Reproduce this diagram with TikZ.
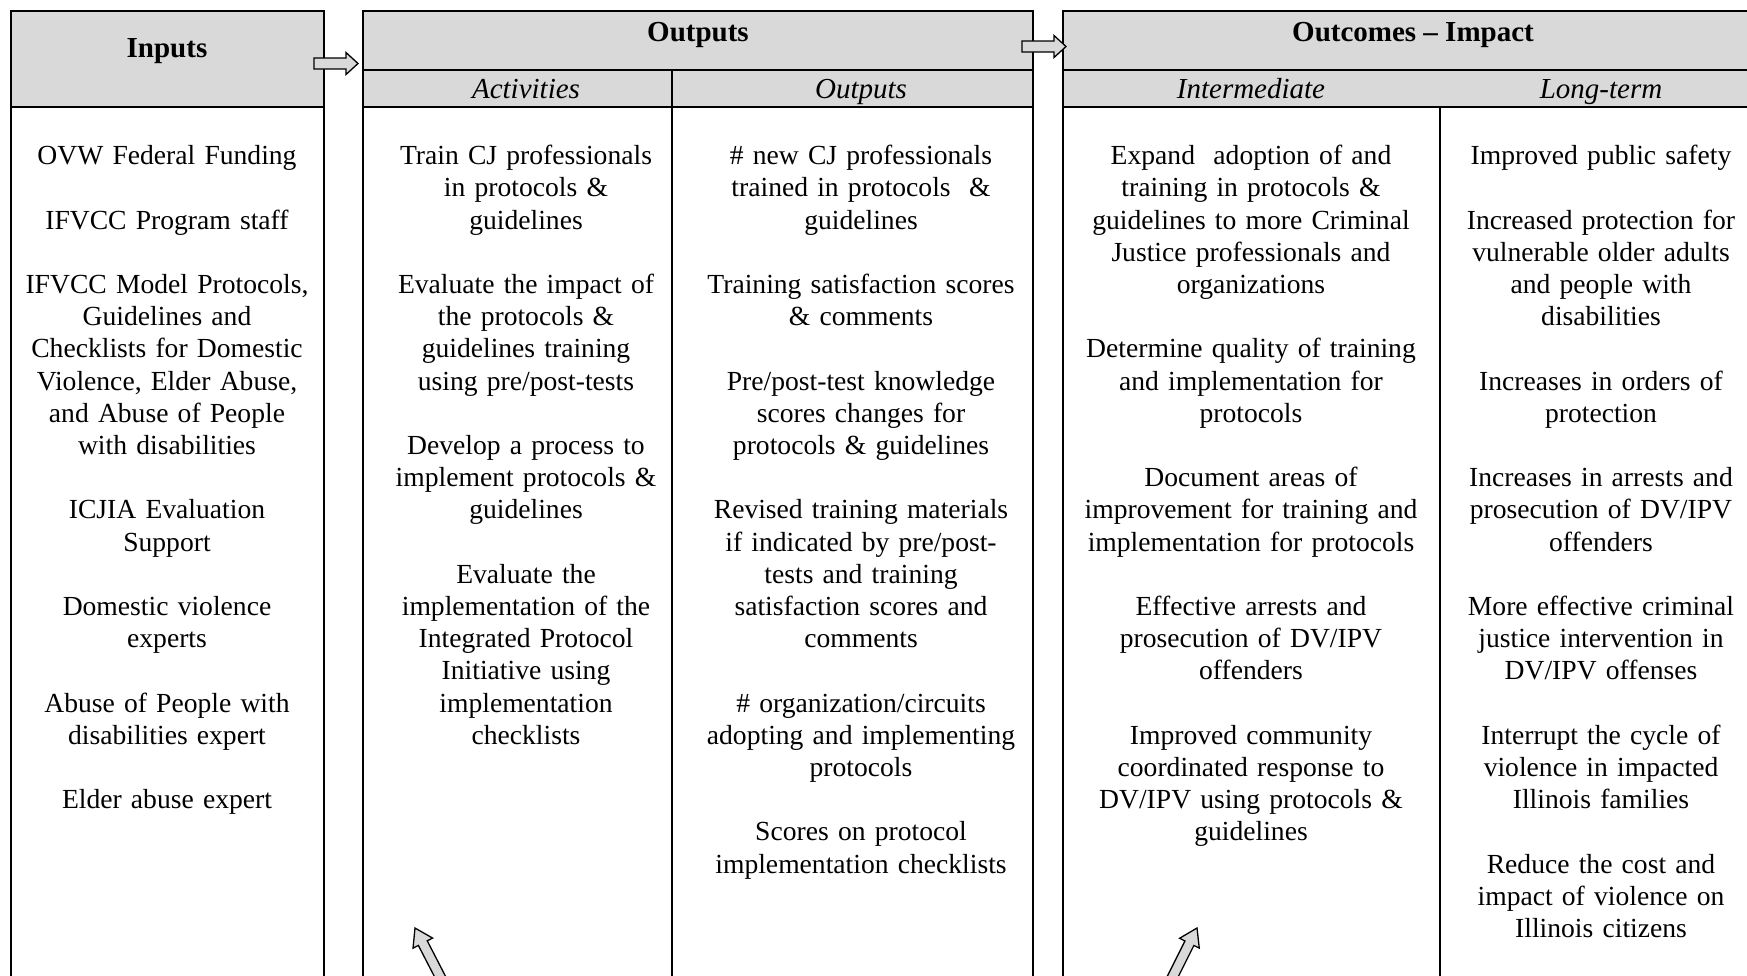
\documentclass[tikz,border=0pt]{standalone}
\usepackage{fontspec}
\setmainfont{Liberation Serif}
\usetikzlibrary{calc}
\definecolor{hdrgray}{HTML}{D9D9D9}
\tikzset{
  frame/.style={line width=1.4pt, draw=black},
  divider/.style={line width=1.2pt, draw=black},
  hdrfill/.style={fill=hdrgray},
  titletext/.style={font=\fontsize{29}{33}\selectfont\bfseries, inner sep=0pt, anchor=base},
  subtext/.style={font=\fontsize{29}{33}\selectfont\itshape, inner sep=0pt, anchor=base},
  coltext/.style={font=\fontsize{27.6}{32.2}\selectfont, inner sep=0pt, anchor=north, align=center},
  blockarrowstyle/.style={fill=hdrgray, draw=black, line width=1.3pt, line join=miter},
}
\newcommand\blkarrow[6]{%
  \coordinate (#1-t) at #2;
  \coordinate (#1-p) at #3;
  \coordinate (#1-h) at ($(#1-p)!#6!(#1-t)$);
  \draw[blockarrowstyle] ($(#1-t)!#4!90:(#1-p)$) -- ($(#1-h)!#4!90:(#1-p)$) -- ($(#1-h)!#5!90:(#1-p)$) -- (#1-p) -- ($(#1-h)!#5!-90:(#1-p)$) -- ($(#1-h)!#4!-90:(#1-p)$) -- ($(#1-t)!#4!-90:(#1-p)$) -- cycle;
}
\begin{document}
\begin{tikzpicture}[x=1pt,y=1pt]
\useasboundingbox (0,0) rectangle (1747,-975);
\clip (0,0) rectangle (1747,-975);
\fill[white] (0,0) rectangle (1747,-975);

% ---------- Inputs box ----------
\path[hdrfill] (11,-11) rectangle (324,-107);
\draw[frame] (11,-1000) -- (11,-11) -- (324,-11) -- (324,-1000);
\draw[frame] (11,-107) -- (324,-107);

% ---------- Outputs box ----------
\path[hdrfill] (363,-11) rectangle (1033,-107);
\draw[frame] (363,-1000) -- (363,-11) -- (1033,-11) -- (1033,-1000);
\draw[frame] (363,-70) -- (1033,-70);
\draw[frame] (363,-107) -- (1033,-107);
\draw[divider] (672,-70) -- (672,-1000);

% ---------- Outcomes box ----------
\path[hdrfill] (1063,-11) rectangle (1770,-107);
\draw[frame] (1063,-1000) -- (1063,-11) -- (1770,-11);
\draw[frame] (1063,-70) -- (1770,-70);
\draw[frame] (1063,-107) -- (1770,-107);
\draw[divider] (1440,-107) -- (1440,-1000);

% ---------- Headers ----------
\node[titletext] (hinputs) at (167,-57) {Inputs};
\node[titletext] (houtputs) at (698,-41) {Outputs};
\node[titletext] (houtcomes) at (1413,-41) {Outcomes – Impact};
\node[subtext] (hact) at (526,-98) {Activities};
\node[subtext] (hout) at (861,-98) {Outputs};
\node[subtext] (hint) at (1251,-98) {Intermediate};
\node[subtext] (hlong) at (1601,-98) {Long-term};

% ---------- Columns ----------
\node[coltext, text width=305pt] (cinputs) at (167,-142) {\strut OVW Federal Funding\\[32.2pt]
IFVCC Program staff\\[32.2pt]
IFVCC Model Protocols,\\ Guidelines and\\ Checklists for Domestic\\ Violence, Elder Abuse,\\ and Abuse of People\\ with disabilities\\[32.2pt]
ICJIA Evaluation\\ Support\\[32.2pt]
Domestic violence\\ experts\\[32.2pt]
Abuse of People with\\ disabilities expert\\[32.2pt]
Elder abuse expert};

\node[coltext, text width=300pt] (cact) at (526,-142) {\strut Train CJ professionals\\ in protocols \&\\ guidelines\\[32.2pt]
Evaluate the impact of\\ the protocols \&\\ guidelines training\\ using pre/post-tests\\[32.2pt]
Develop a process to\\ implement protocols \&\\ guidelines\\[32.2pt]
Evaluate the\\ implementation of the\\ Integrated Protocol\\ Initiative using\\ implementation\\ checklists};

\node[coltext, text width=345pt] (cout) at (861,-142) {\strut \# new CJ professionals\\ trained in protocols\ \ \&\\ guidelines\\[32.2pt]
Training satisfaction scores\\ \& comments\\[32.2pt]
Pre/post-test knowledge\\ scores changes for\\ protocols \& guidelines\\[32.2pt]
Revised training materials\\ if indicated by pre/post-\\ tests and training\\ satisfaction scores and\\ comments\\[32.2pt]
\# organization/circuits\\ adopting and implementing\\ protocols\\[32.2pt]
Scores on protocol\\ implementation checklists};

\node[coltext, text width=365pt] (cint) at (1251,-142) {\strut Expand\ \ adoption of and\\ training in protocols \&\\ guidelines to more Criminal\\ Justice professionals and\\ organizations\\[32.2pt]
Determine quality of training\\ and implementation for\\ protocols\\[32.2pt]
Document areas of\\ improvement for training and\\ implementation for protocols\\[32.2pt]
Effective arrests and\\ prosecution of DV/IPV\\ offenders\\[32.2pt]
Improved community\\ coordinated response to\\ DV/IPV using protocols \&\\ guidelines};

\node[coltext, text width=305pt] (clong) at (1601,-142) {\strut Improved public safety\\[32.2pt]
Increased protection for\\ vulnerable older adults\\ and people with\\ disabilities\\[32.2pt]
Increases in orders of\\ protection\\[32.2pt]
Increases in arrests and\\ prosecution of DV/IPV\\ offenders\\[32.2pt]
More effective criminal\\ justice intervention in\\ DV/IPV offenses\\[32.2pt]
Interrupt the cycle of\\ violence in impacted\\ Illinois families\\[32.2pt]
Reduce the cost and\\ impact of violence on\\ Illinois citizens};

% ---------- Block arrows ----------
\blkarrow{aone}{(314,-63.5)}{(358,-63.5)}{5.5pt}{11pt}{12pt}
\blkarrow{atwo}{(1022,-46.5)}{(1066,-46.5)}{5.5pt}{11pt}{12pt}
\blkarrow{athree}{(447,-990)}{(415,-928)}{5pt}{11pt}{17pt}
\blkarrow{afour}{(1166,-990)}{(1197,-928)}{5pt}{11pt}{17pt}
\end{tikzpicture}
\end{document}
